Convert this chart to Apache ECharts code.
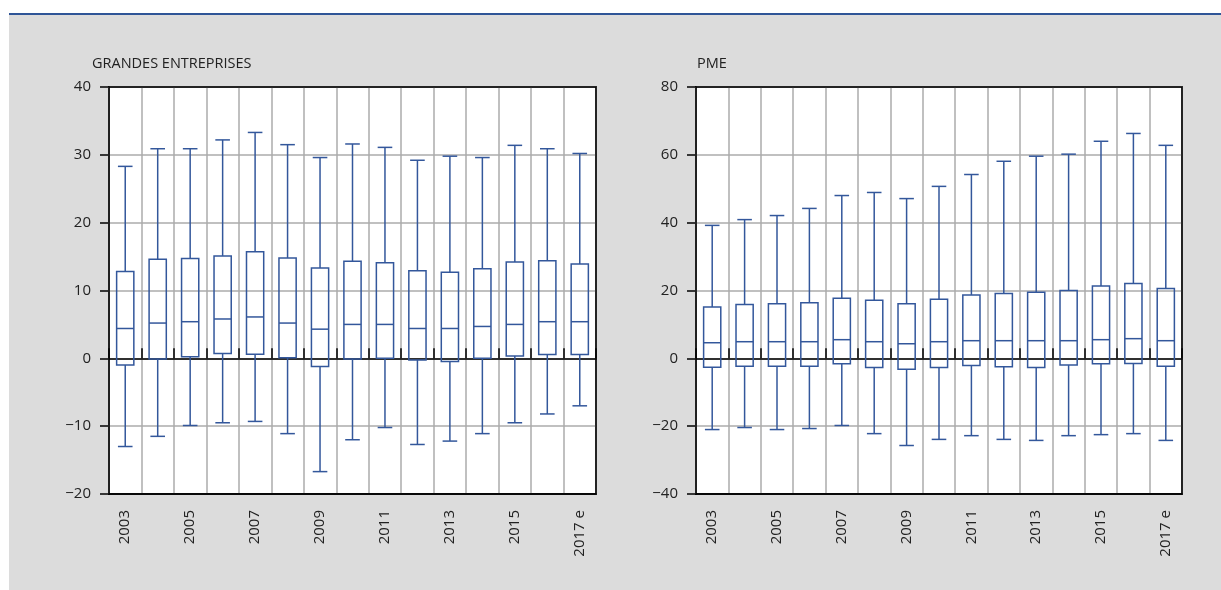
<!DOCTYPE html>
<html>
<head>
<meta charset="utf-8">
<script src="https://cdn.jsdelivr.net/npm/echarts@6/dist/echarts.min.js"></script>
<style>
  html, body { margin: 0; padding: 0; background: #ffffff; }
  #wrap { position: relative; width: 1221px; height: 590px; background: #ffffff; overflow: hidden; }
  #bg { position: absolute; left: 9px; top: 15px; right: 0; bottom: 0; background: #dcdcdc; }
  #rule { position: absolute; left: 9px; top: 12.5px; right: 0; height: 2.5px; background: #2f5597; }
  #chart { position: absolute; left: 0; top: 0; width: 1221px; height: 590px; }
</style>
</head>
<body>
<div id="wrap">
  <div id="bg"></div>
  <div id="rule"></div>
  <div id="chart"></div>
</div>
<script>
// ---- Data ----
const categories = ['2003','2004','2005','2006','2007','2008','2009','2010','2011','2012','2013','2014','2015','2016','2017 e'];

// GRANDES ENTREPRISES
const geMin = [-13.0,-11.5,-9.9,-9.5,-9.3,-11.1,-16.7,-12.0,-10.2,-12.7,-12.2,-11.1,-9.5,-8.2,-7.0];
const geQ1  = [-1.0,-0.1,0.25,0.7,0.6,0.1,-1.2,-0.1,0.0,-0.25,-0.45,0.0,0.35,0.55,0.55];
const geMed = [4.4,5.2,5.4,5.8,6.1,5.2,4.3,5.0,5.0,4.4,4.4,4.7,5.0,5.4,5.4];
const geQ3  = [12.8,14.6,14.7,15.1,15.7,14.8,13.3,14.3,14.1,12.9,12.7,13.2,14.2,14.4,13.9];
const geMax = [28.3,30.9,30.9,32.2,33.3,31.5,29.6,31.6,31.1,29.2,29.8,29.6,31.4,30.9,30.2];

// PME
const pmeMin = [-21.0,-20.4,-21.0,-20.7,-19.8,-22.2,-25.7,-23.9,-22.8,-23.9,-24.2,-22.8,-22.5,-22.2,-24.2];
const pmeQ1  = [-2.6,-2.3,-2.3,-2.3,-1.6,-2.7,-3.2,-2.7,-2.1,-2.5,-2.7,-2.0,-1.6,-1.5,-2.3];
const pmeMed = [4.6,4.9,4.9,4.9,5.5,4.9,4.3,4.9,5.2,5.2,5.2,5.2,5.5,5.8,5.2];
const pmeQ3  = [15.1,15.9,16.1,16.4,17.7,17.1,16.1,17.4,18.7,19.1,19.5,20.0,21.3,22.1,20.6];
const pmeMax = [39.2,40.9,42.1,44.2,48.0,48.9,47.1,50.7,54.2,58.1,59.6,60.2,64.0,66.3,62.8];

const titleLeft = 'GRANDES ENTREPRISES';
const titleRight = 'PME';
const leftTicks = { min: -20, max: 40, interval: 10 };
const rightTicks = { min: -40, max: 80, interval: 20 };

// ---- Layout / styles ----
const GRIDS = [
  { left: 109, top: 87, width: 487, height: 407 },
  { left: 696, top: 87, width: 486, height: 407 }
];
const FONT = 'Open Sans';
const TEXT = '#222222';
const BLUE = '#33579b';
const GRIDGREY = '#ababab';

function buildData(mn, q1, md, q3, mx) {
  return categories.map((c, i) => [i, mn[i], q1[i], md[i], q3[i], mx[i]]);
}

function renderBox(params, api) {
  const i = api.value(0);
  const pMin = api.coord([i, api.value(1)]);
  const pQ1 = api.coord([i, api.value(2)]);
  const pMed = api.coord([i, api.value(3)]);
  const pQ3 = api.coord([i, api.value(4)]);
  const pMax = api.coord([i, api.value(5)]);
  const cw = api.size([1, 0])[0];
  const bw = cw * 0.53;
  const capw = cw * 0.45;
  const cx = pMed[0];
  const st = { stroke: BLUE, lineWidth: 1.5, fill: null };
  return {
    type: 'group',
    children: [
      { type: 'line', shape: { x1: cx, y1: pQ3[1], x2: cx, y2: pMax[1] }, style: st },
      { type: 'line', shape: { x1: cx, y1: pQ1[1], x2: cx, y2: pMin[1] }, style: st },
      { type: 'line', shape: { x1: cx - capw / 2, y1: pMax[1], x2: cx + capw / 2, y2: pMax[1] }, style: st },
      { type: 'line', shape: { x1: cx - capw / 2, y1: pMin[1], x2: cx + capw / 2, y2: pMin[1] }, style: st },
      { type: 'rect', shape: { x: cx - bw / 2, y: pQ3[1], width: bw, height: pQ1[1] - pQ3[1] }, style: { stroke: BLUE, lineWidth: 1.5, fill: 'rgba(255,255,255,0)' } },
      { type: 'line', shape: { x1: cx - bw / 2, y1: pMed[1], x2: cx + bw / 2, y2: pMed[1] }, style: st }
    ]
  };
}

function minusFmt(v) { return v < 0 ? '\u2212' + Math.abs(v) : String(v); }

function makeGrid(g) {
  return Object.assign({ show: true, backgroundColor: '#ffffff', borderColor: '#000000', borderWidth: 1.5 }, g);
}

function labelXAxis(gi) {
  return {
    type: 'category', gridIndex: gi, data: categories, position: 'bottom',
    boundaryGap: true,
    axisLine: { show: true, onZero: false, lineStyle: { color: '#000', width: 1.5 } },
    axisTick: { show: false },
    axisLabel: { interval: 1, rotate: 90, margin: 16, fontFamily: FONT, fontSize: 15, color: TEXT },
    splitLine: { show: true, interval: 0, lineStyle: { color: GRIDGREY, width: 1.5 } },
    z: 1
  };
}

function zeroXAxis(gi) {
  return {
    type: 'category', gridIndex: gi, data: categories, position: 'bottom',
    boundaryGap: true,
    axisLine: { show: true, onZero: true, lineStyle: { color: '#000', width: 1.5 } },
    axisTick: { show: true, inside: true, length: 10, interval: 0, lineStyle: { color: '#000', width: 1.5 } },
    axisLabel: { show: false },
    splitLine: { show: false },
    z: 3
  };
}

function yAxisOf(gi, t) {
  return {
    type: 'value', gridIndex: gi, min: t.min, max: t.max, interval: t.interval,
    axisLine: { show: true, lineStyle: { color: '#000', width: 1.5 } },
    axisTick: { show: true, inside: false, length: 9, lineStyle: { color: '#000', width: 1.5 } },
    axisLabel: { margin: 18, fontFamily: FONT, fontSize: 15, color: TEXT, formatter: minusFmt },
    splitLine: { show: true, lineStyle: { color: GRIDGREY, width: 1.5 } }
  };
}

// black frame around each plot area, drawn on top of the grey grid lines
const frames = GRIDS.map(g => ({
  type: 'rect', silent: true, z: 10,
  shape: { x: g.left, y: g.top, width: g.width, height: g.height },
  style: { fill: null, stroke: '#000000', lineWidth: 1.5 }
}));

const chart = echarts.init(document.getElementById('chart'), null, { renderer: 'canvas' });
chart.setOption({
  backgroundColor: 'transparent',
  animation: false,
  title: [
    { text: titleLeft, left: 87, top: 51, textStyle: { fontFamily: FONT, fontSize: 14.5, fontWeight: 'normal', color: TEXT } },
    { text: titleRight, left: 692, top: 51, textStyle: { fontFamily: FONT, fontSize: 14.5, fontWeight: 'normal', color: TEXT } }
  ],
  grid: GRIDS.map(makeGrid),
  graphic: frames,
  xAxis: [labelXAxis(0), zeroXAxis(0), labelXAxis(1), zeroXAxis(1)],
  yAxis: [yAxisOf(0, leftTicks), yAxisOf(1, rightTicks)],
  series: [
    {
      type: 'custom', xAxisIndex: 0, yAxisIndex: 0, renderItem: renderBox, z: 5,
      encode: { x: 0, y: [1, 2, 3, 4, 5] },
      data: buildData(geMin, geQ1, geMed, geQ3, geMax)
    },
    {
      type: 'custom', xAxisIndex: 2, yAxisIndex: 1, renderItem: renderBox, z: 5,
      encode: { x: 0, y: [1, 2, 3, 4, 5] },
      data: buildData(pmeMin, pmeQ1, pmeMed, pmeQ3, pmeMax)
    }
  ]
});
</script>
</body>
</html>
